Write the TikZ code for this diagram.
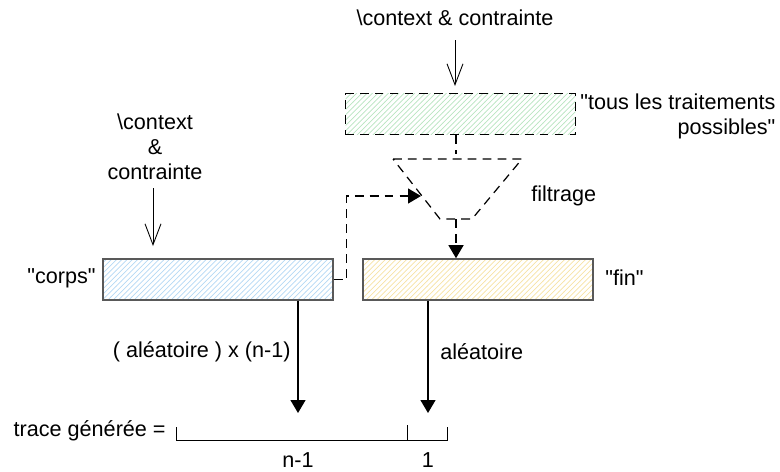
\documentclass[tikz,border=0pt]{standalone}
\usepackage{fontspec}
\setmainfont{Liberation Sans}
\usetikzlibrary{patterns,arrows.meta}
\definecolor{hachvert}{HTML}{B8E4C0}
\definecolor{hachbleu}{HTML}{B4D8F4}
\definecolor{hachjaune}{HTML}{F6E2A4}

\begin{document}
\begin{tikzpicture}[x=0.02cm,y=-0.02cm,font=\fontsize{12.3}{14.2}\selectfont,
  bloc/.style={draw=black!65,line width=0.9pt,minimum width=4.6cm,minimum height=0.82cm,inner sep=0pt},
  tiret/.style={dash pattern=on 5pt off 3.5pt,line width=0.7pt},
  fleche/.style={line width=0.7pt,-{Triangle[length=0.26cm,width=0.3cm]}},
  pointe/.style={line width=0.5pt,-{Straight Barb[length=0.42cm,width=0.32cm]}}]
  \useasboundingbox (0,0) rectangle (780,471);
  % contexte du haut et ensemble des traitements
  \node[inner sep=0] (ctxhaut) at (455,18) {\textbackslash context \& contrainte};
  \node[bloc,draw=black,tiret,pattern=north east lines,pattern color=hachvert] (tous) at (460.5,114) {};
  \node[inner sep=0,anchor=west,align=right] (toustxt) at (580,116) {\textquotedbl tous les traitements\\possibles\textquotedbl};
  \coordinate (ctxdepart) at (455,40);
  \coordinate (ctxpointe) at (455,86);
  \draw[pointe] (ctxdepart) -- (ctxpointe);
  % filtrage
  \coordinate (filtrehaut) at (456,159);
  \coordinate (filtrebas) at (456,219);
  \coordinate (entree) at (421,196);
  \draw[tiret] (tous.south -| filtrehaut) -- (456,154);
  \draw[tiret] (393,159) -- (522,159) -- (472,219) -- (440,219) -- cycle;
  \node[inner sep=0,anchor=west] (filtrage) at (531,196) {filtrage};
  % blocs corps et fin
  \node[bloc,pattern=north east lines,pattern color=hachbleu] (corps) at (218,279.5) {};
  \node[bloc,pattern=north east lines,pattern color=hachjaune] (fin) at (478,279.5) {};
  \node[inner sep=0,anchor=east] (corpstxt) at (96,278) {\textquotedbl corps\textquotedbl};
  \node[inner sep=0,anchor=west] (fintxt) at (605,278) {\textquotedbl fin\textquotedbl};
  \draw[tiret,fleche] (corps.east) -- ++(13,0) |- (entree);
  \draw[tiret,fleche] (filtrebas) -- (fin.north -| filtrebas);
  % contexte de gauche
  \node[inner sep=0,align=center] (ctxgauche) at (155,147) {\textbackslash context\\\&\\contrainte};
  \coordinate (gdepart) at (153,188);
  \coordinate (gpointe) at (153,246);
  \draw[pointe] (gdepart) -- (gpointe);
  % trace generee
  \node[inner sep=0,anchor=east] (trace) at (166,431) {trace générée =};
  \coordinate (bg) at (176,440);
  \coordinate (bm) at (407,440);
  \coordinate (bd) at (447,440);
  \draw[line width=0.5pt] (176,427) -- (bg) -- (bd) -- (447,427);
  \draw[line width=0.5pt] (bm) -- (407,425);
  \node[inner sep=0] (nmoins) at (298,460) {n-1};
  \node[inner sep=0] (un) at (428,460) {1};
  \coordinate (ta) at (298,413);
  \coordinate (tb) at (428,413);
  \draw[fleche] (corps.south -| ta) -- (ta);
  \draw[fleche] (fin.south -| tb) -- (tb);
  \node[inner sep=0,anchor=east] (alea1) at (291,352) {( aléatoire ) x (n-1)};
  \node[inner sep=0,anchor=west] (alea2) at (440,352) {aléatoire};
\end{tikzpicture}
\end{document}
